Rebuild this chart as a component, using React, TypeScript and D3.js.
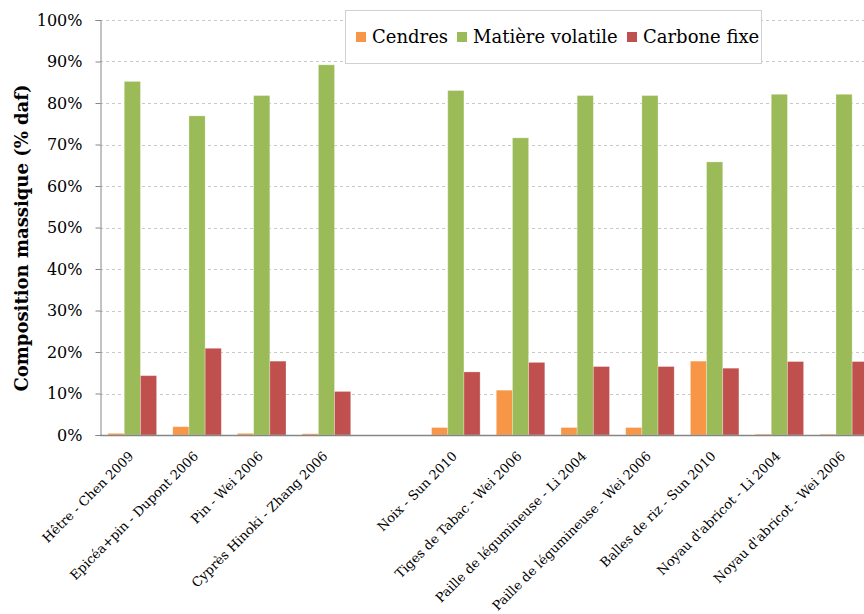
// @ts-nocheck
import React, { useEffect, useRef } from "react";
import * as d3 from "d3";

// "" = empty slot between the two groups of samples
const categories = [
  "Hêtre - Chen 2009",
  "Epicéa+pin - Dupont 2006",
  "Pin - Wei 2006",
  "Cyprès Hinoki - Zhang 2006",
  "",
  "Noix - Sun 2010",
  "Tiges de Tabac - Wei 2006",
  "Paille de légumineuse - Li 2004",
  "Paille de légumineuse - Wei 2006",
  "Balles de riz - Sun 2010",
  "Noyau d'abricot - Li 2004",
  "Noyau d'abricot - Wei 2006",
];
const seriesNames = ["Cendres", "Matière volatile", "Carbone fixe"];
const cendres = [0.4, 2.0, 0.4, 0.3, null, 1.8, 10.8, 1.8, 1.8, 17.8, 0.2, 0.2];
const matiereVolatile = [85.2, 76.9, 81.8, 89.2, null, 83.0, 71.6, 81.8, 81.8, 65.8, 82.1, 82.1];
const carboneFixe = [14.3, 20.9, 17.8, 10.5, null, 15.2, 17.5, 16.5, 16.5, 16.1, 17.7, 17.7];
const yTicks = [0, 10, 20, 30, 40, 50, 60, 70, 80, 90, 100];

const colors = ["#F79646", "#9BBB59", "#C0504D"];
const FONT = "'DejaVu Serif', 'Liberation Serif', serif";

export default function App() {
  const ref = useRef();

  useEffect(() => {
    const svg = d3.select(ref.current);
    svg.selectAll("*").remove();

    const W = 864;
    const left = 100, top = 20, bottom = 435;
    const bandW = 64.7;
    const keys = categories.map((c, i) => i);

    const x = d3
      .scaleBand()
      .domain(keys)
      .range([left, left + bandW * categories.length]);
    const inner = d3
      .scaleBand()
      .domain([0, 1, 2])
      .range([0, x.bandwidth()])
      .paddingOuter(0.5)
      .paddingInner(0);
    const y = d3.scaleLinear().domain([0, 100]).range([bottom, top]);

    const g = svg.append("g");

    // gridlines
    g.selectAll(".grid")
      .data(yTicks.filter((d) => d > 0))
      .enter()
      .append("line")
      .attr("x1", left)
      .attr("x2", W)
      .attr("y1", (d) => Math.round(y(d)) + 0.5)
      .attr("y2", (d) => Math.round(y(d)) + 0.5)
      .style("stroke", "#c8c8c8")
      .style("stroke-width", 1)
      .style("stroke-dasharray", "3,3");

    // y axis
    const yAxis = g
      .append("g")
      .attr("transform", `translate(${left + 0.5},0)`)
      .call(
        d3
          .axisLeft(y)
          .tickValues(yTicks)
          .tickSize(5)
          .tickFormat((d) => d + "%")
      );
    yAxis.select(".domain").style("stroke", "#868686");
    yAxis.selectAll(".tick line").style("stroke", "#868686");
    yAxis
      .selectAll("text")
      .attr("x", -18)
      .style("font-family", FONT)
      .style("font-size", "16px")
      .style("fill", "#000");

    // bars
    const series = [cendres, matiereVolatile, carboneFixe];
    series.forEach((vals, si) => {
      g.selectAll(".bar" + si)
        .data(vals.map((v, i) => ({ v, i })).filter((d) => d.v != null))
        .enter()
        .append("rect")
        .attr("x", (d) => x(d.i) + inner(si))
        .attr("width", inner.bandwidth())
        .attr("y", (d) => y(d.v))
        .attr("height", (d) => y(0) - y(d.v))
        .style("fill", colors[si])
        .style("stroke", "rgba(255,255,255,0.35)")
        .style("stroke-width", 0.8);
    });

    // x axis line
    g.append("line")
      .attr("x1", left)
      .attr("x2", W)
      .attr("y1", bottom + 0.5)
      .attr("y2", bottom + 0.5)
      .style("stroke", "#868686")
      .style("stroke-width", 1.5);

    // x labels
    g.selectAll(".xlab")
      .data(categories.map((c, i) => ({ c, i })).filter((d) => d.c))
      .enter()
      .append("text")
      .attr("transform", (d) => {
        const cx = x(d.i) + x.bandwidth() / 2 + 2;
        return `translate(${cx},${bottom + 22}) rotate(-45)`;
      })
      .attr("text-anchor", "end")
      .style("font-family", FONT)
      .style("font-size", "13px")
      .style("fill", "#000")
      .text((d) => d.c);

    // y title
    g.append("text")
      .attr("transform", `translate(28,238) rotate(-90)`)
      .attr("text-anchor", "middle")
      .style("font-family", FONT)
      .style("font-weight", "bold")
      .style("font-size", "18px")
      .style("fill", "#000")
      .text("Composition massique (% daf)");

    // legend
    const lg = g.append("g");
    lg.append("rect")
      .attr("x", 345.5)
      .attr("y", 10.5)
      .attr("width", 416)
      .attr("height", 53)
      .style("fill", "#fff")
      .style("stroke", "#d0d0d0");
    const itemX = [356, 457, 627];
    seriesNames.forEach((name, i) => {
      lg.append("rect")
        .attr("x", itemX[i])
        .attr("y", 32)
        .attr("width", 10)
        .attr("height", 10)
        .style("fill", colors[i]);
      lg.append("text")
        .attr("x", itemX[i] + 16)
        .attr("y", 43)
        .style("font-family", FONT)
        .style("font-size", "18px")
        .style("fill", "#000")
        .text(name);
    });
  }, []);

  return (
    <svg
      ref={ref}
      width={864}
      height={614}
      style={{ position: "fixed", left: 0, top: 0, background: "#fff" }}
    ></svg>
  );
}
